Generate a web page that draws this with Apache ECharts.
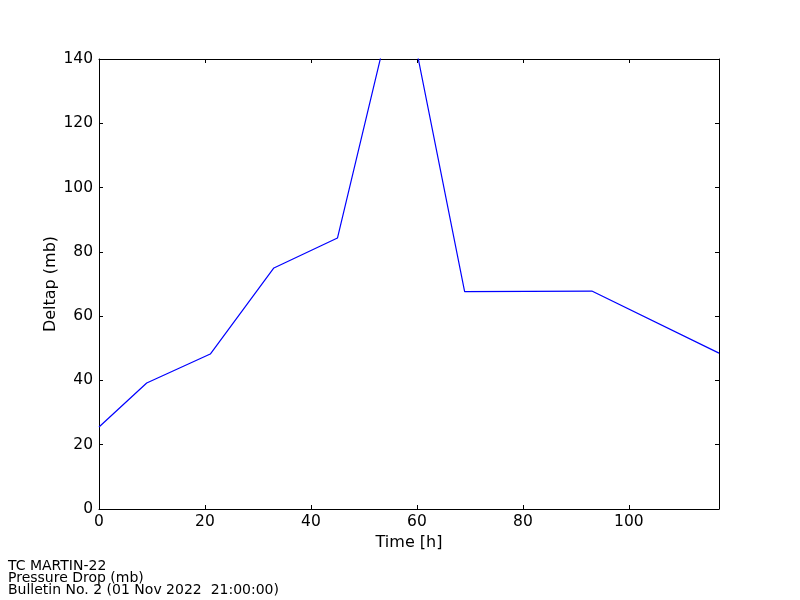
<!DOCTYPE html>
<html><head><meta charset="utf-8">
<script src="https://cdn.jsdelivr.net/npm/echarts@6/dist/echarts.min.js"></script>
<style>html,body{margin:0;padding:0;background:#fff}#c{width:800px;height:600px}</style>
</head><body><div id="c"></div>
<script>
var timeHours = [0, 9, 21, 33, 45, 57, 69, 93, 117];
var deltap = [25.5, 39.2, 48.2, 75.0, 84.3, 167, 67.6, 67.8, 48.5];
var xTicks = [0, 20, 40, 60, 80, 100];
var yTicks = [0, 20, 40, 60, 80, 100, 120, 140];
var titleLines = ['TC MARTIN-22', 'Pressure Drop (mb)', 'Bulletin No. 2 (01 Nov 2022  21:00:00)'];

var font = 'DejaVu Sans';
var chart = echarts.init(document.getElementById('c'), null, {renderer: 'canvas'});
var axisLineStyle = {color: '#000', width: 1};
chart.setOption({
  animation: false,
  backgroundColor: '#fff',
  grid: {left: 99, right: 81, top: 59, bottom: 91, containLabel: false},
  xAxis: [{
    type: 'value', min: 0, max: 117, interval: 20, position: 'bottom',
    name: 'Time [h]', nameLocation: 'middle', nameGap: 24,
    nameTextStyle: {fontFamily: font, fontSize: 16, color: '#000'},
    axisLine: {show: true, onZero: false, lineStyle: axisLineStyle},
    axisTick: {show: true, inside: true, length: 4, lineStyle: {color: '#000'}},
    axisLabel: {fontFamily: font, fontSize: 15.5, color: '#000', margin: 5, showMaxLabel: false,
      formatter: function(v){ return xTicks.indexOf(v) >= 0 ? String(v) : ''; }},
    splitLine: {show: false}
  }, {
    type: 'value', min: 0, max: 117, interval: 20, position: 'top',
    axisLine: {show: true, onZero: false, lineStyle: axisLineStyle},
    axisTick: {show: true, inside: true, length: 4, lineStyle: {color: '#000'}},
    axisLabel: {show: false}, splitLine: {show: false}
  }],
  yAxis: [{
    type: 'value', min: 0, max: 140, interval: 20, position: 'left',
    name: 'Deltap (mb)', nameLocation: 'middle', nameGap: 40, nameRotate: 90,
    nameMoveOverlap: false,
    nameTextStyle: {fontFamily: font, fontSize: 16, color: '#000'},
    axisLine: {show: true, onZero: false, lineStyle: axisLineStyle},
    axisTick: {show: true, inside: true, length: 4, lineStyle: {color: '#000'}},
    axisLabel: {fontFamily: font, fontSize: 15.5, color: '#000', margin: 6,
      formatter: function(v){ return yTicks.indexOf(v) >= 0 ? String(v) : ''; }},
    splitLine: {show: false}
  }, {
    type: 'value', min: 0, max: 140, interval: 20, position: 'right',
    axisLine: {show: true, onZero: false, lineStyle: axisLineStyle},
    axisTick: {show: true, inside: true, length: 4, lineStyle: {color: '#000'}},
    axisLabel: {show: false}, splitLine: {show: false}
  }],
  series: [{
    type: 'line', xAxisIndex: 0, yAxisIndex: 0,
    data: timeHours.map(function(t, i){ return [t, deltap[i]]; }),
    showSymbol: false, symbol: 'none', clip: true,
    lineStyle: {color: '#0000ff', width: 1.2}
  }],
  graphic: titleLines.map(function(s, i){
    return {type: 'text', left: 8, top: 559 + i * 12,
      style: {text: s, font: '14px "DejaVu Sans"', fill: '#000'}};
  })
});
</script></body></html>
